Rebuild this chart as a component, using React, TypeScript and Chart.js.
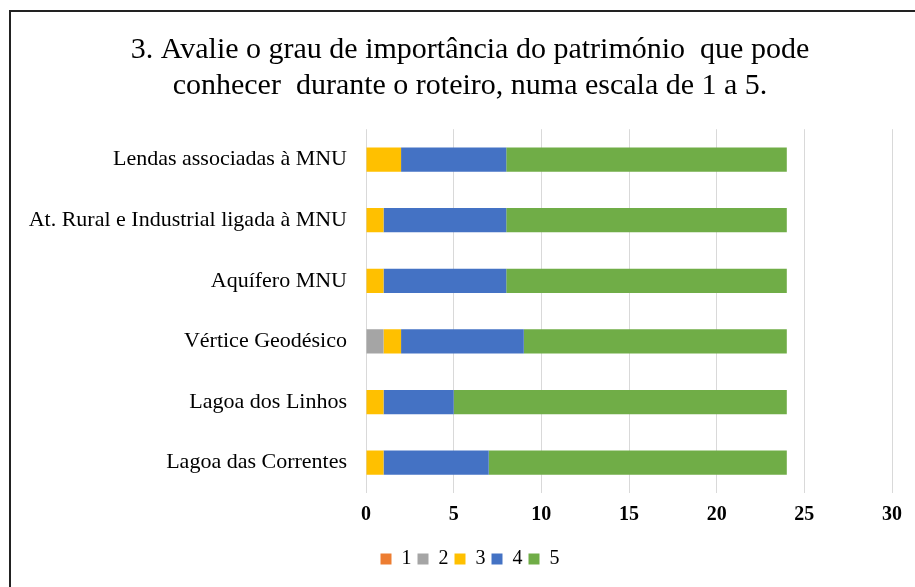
import React, { useEffect, useRef } from "react";
import { Chart, registerables } from "chart.js";

Chart.register(...registerables);

const categories = [
  "Lendas associadas à MNU",
  "At. Rural e Industrial ligada à MNU",
  "Aquífero MNU",
  "Vértice Geodésico",
  "Lagoa dos Linhos",
  "Lagoa das Correntes",
];
const series1 = [0, 0, 0, 0, 0, 0];
const series2 = [0, 0, 0, 1, 0, 0];
const series3 = [2, 1, 1, 1, 1, 1];
const series4 = [6, 7, 7, 7, 4, 6];
const series5 = [16, 16, 16, 15, 19, 17];
const seriesNames = ["1", "2", "3", "4", "5"];
const titleLines = [
  "3. Avalie o grau de importância do património  que pode",
  "conhecer  durante o roteiro, numa escala de 1 a 5.",
];

const colors = ["#ED7D31", "#A5A5A5", "#FFC000", "#4472C4", "#70AD47"];
const FONT = "'Liberation Serif', 'Times New Roman', serif";

export default function App() {
  const ref = useRef<HTMLCanvasElement | null>(null);
  useEffect(() => {
    document.body.style.margin = "0";
    document.body.style.overflow = "hidden";
    const all = [series1, series2, series3, series4, series5];
    const chart = new Chart(ref.current!, {
      type: "bar",
      data: {
        labels: categories,
        datasets: all.map((d, i) => ({
          label: seriesNames[i],
          data: d,
          backgroundColor: colors[i],
          borderWidth: 0,
          categoryPercentage: 0.8,
          barPercentage: 0.5,
        })),
      },
      options: {
        indexAxis: "y",
        animation: false,
        responsive: false,
        layout: { padding: { left: 0, right: 0, top: 0, bottom: 8 } },
        plugins: {
          title: {
            display: true,
            text: titleLines,
            color: "#000",
            font: { family: FONT, size: 30, weight: "normal", lineHeight: 1.17 },
            padding: { top: 21, bottom: 26 },
          },
          legend: {
            position: "bottom",
            labels: {
              color: "#000",
              font: { family: FONT, size: 20 },
              boxWidth: 11,
              boxHeight: 11,
              padding: 6,
            },
          },
          tooltip: { enabled: false },
        },
        scales: {
          x: {
            stacked: true,
            min: 0,
            max: 30,
            ticks: {
              stepSize: 5,
              color: "#000",
              font: { family: FONT, size: 20, weight: "bold" },
              padding: 10,
            },
            grid: { color: "#d9d9d9", drawTicks: false, lineWidth: 1 },
            border: { display: false },
            afterFit: (s: any) => {
              s.height = 50;
              s.paddingRight = 37;
            },
          },
          y: {
            stacked: true,
            ticks: {
              color: "#000",
              font: { family: FONT, size: 22 },
              padding: 19,
            },
            grid: { display: false, drawTicks: false },
            border: { display: false },
            afterFit: (s: any) => {
              s.width = 355;
            },
          },
        },
      },
    });
    return () => chart.destroy();
  }, []);
  return (
    <div style={{ position: "fixed", left: 0, top: 0, width: 915, height: 587, overflow: "hidden", background: "#fff" }}>
      <div
        style={{
          position: "absolute",
          left: 9,
          top: 10,
          width: 940,
          height: 600,
          borderLeft: "2px solid #222",
          borderTop: "2px solid #222",
        }}
      >
        <canvas ref={ref} width={918} height={575} style={{ display: "block", width: 918, height: 575 }} />
      </div>
    </div>
  );
}
